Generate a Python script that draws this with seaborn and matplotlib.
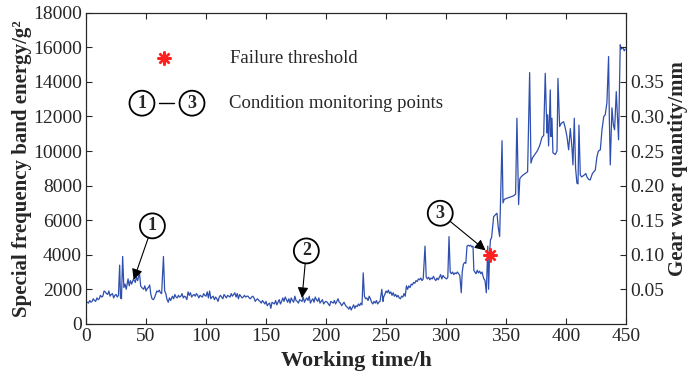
import numpy as np
import pandas as pd
import seaborn as sns
import matplotlib.pyplot as plt

# working time (h) and special frequency band energy (g^2)
hours = [0, 1, 2, 3, 4, 5, 6, 7, 8, 9, 10, 11, 12, 13, 14, 15, 16, 17, 18, 19,
         20, 21, 22, 23, 24, 25, 26, 27, 28, 28.7, 29.5, 30.5, 31.5, 32.5, 33.5, 35, 36, 37, 38, 39.5,
         41, 42, 43, 44.5, 45.5, 46.5, 48, 49, 50, 51, 52, 53, 54, 55, 56, 57, 58, 59, 60, 61,
         62, 63, 64.5, 65.5, 66.5, 67.5, 68.5, 69.5, 70.5, 72, 73, 74, 75, 76, 77, 78, 79, 80, 81, 82,
         83, 84, 85, 86, 87, 88, 89, 90, 91, 92, 93, 94, 95, 96, 97, 98, 99, 100, 101, 102,
         103, 104, 105, 106, 107, 108, 109, 110, 111, 112, 113, 114, 115, 116, 117, 118, 119, 120, 121, 122,
         123, 124, 125, 126, 127, 128, 129, 130, 131, 132, 133, 134, 135, 136, 137, 138, 139, 140, 141, 142,
         143, 144, 145, 146, 147, 148, 149, 150, 151, 152, 153, 154, 155, 156, 157, 158, 159, 160, 161, 162,
         163, 164, 165, 166, 167, 168, 169, 170, 171, 172, 173, 174, 175, 176, 177, 178, 179, 180, 181, 182,
         183, 184, 185, 186, 187, 188, 189, 190, 191, 192, 193, 194, 195, 196, 197, 198, 199, 200, 201, 202,
         203, 204, 205, 206, 207, 208, 209, 210, 211, 212, 213, 214, 215, 216, 217, 218, 219, 220, 221, 222,
         223, 224, 225, 226, 227, 228, 229, 230, 231, 232, 233, 234, 235, 236, 237, 238, 239, 240, 241, 242,
         243, 244, 245, 246.5, 247.5, 248, 249, 250, 251, 252, 253, 254, 255, 256, 257, 258, 259, 260, 261, 262,
         263, 264, 265, 266, 267, 268, 269, 270, 271, 272, 273, 274, 275, 276, 277, 278, 279, 280, 281, 282.5,
         283.5, 284.5, 285.5, 286.5, 287.5, 288.5, 289.5, 290.5, 291.5, 292.5, 293.5, 294.5, 295.5, 296.5, 297.5,
         298.5, 299.5, 300.5, 301.5, 302.5, 303.5, 304.5, 305.5, 306.5, 307.5, 308.5, 309.5, 310.5, 311.5, 312.7,
         313.5, 314.5, 315.5, 316.5, 317.5, 318.5, 319.5, 320.5, 321.5, 322.5, 323.2, 324, 325, 326, 327, 328,
         329, 330, 331.3, 332.5, 333.6, 334.8, 335.5, 336.3, 337, 338, 339.7, 341, 342.5, 343.5, 344.7, 346.7, 347.5,
         348.5, 350, 352, 354, 356, 358, 359.1, 360.5, 361.5, 362.5, 364, 366, 368, 369.7, 370.8, 372, 374, 376,
         378, 380, 381.4, 382.7, 384.1, 384.7, 385.5, 386.9, 387.5, 388.3, 389.1, 391, 392.5, 393.3, 394.7, 396,
         398, 399.5, 400.8, 402.2, 403.6, 405, 405.8, 406.9, 408, 409.1, 410, 410.8, 411.9, 413, 415, 416.5,
         417.5, 419, 420.2, 422, 424.4, 425.8, 427, 428.6, 430, 431.5, 432.7, 434.1, 435.5, 436.1, 436.9, 438.3,
         439.5, 440.5, 441.9, 443.8, 445.2, 446, 447.5, 448.5, 449.4]
energy = [1300, 1250, 1200, 1350, 1250, 1300, 1450, 1350, 1300, 1500, 1400, 1450, 1650, 1550, 1600, 1900, 1850, 1750, 1700, 1900,
          1600, 1700, 1750, 1500, 1650, 1700, 1550, 1650, 3400, 1500, 1450, 3900, 2100, 2300, 2000, 2600, 2200, 2500, 2300, 2600,
          2400, 2700, 2500, 2950, 2200, 2100, 2000, 2200, 1900, 2050, 2100, 2250, 1700, 1450, 1400, 1500, 1700, 1900, 1850, 1950,
          1800, 1750, 3900, 1900, 1750, 1400, 1250, 1500, 1350, 1600, 1450, 1700, 1550, 1500, 1650, 1550, 1600, 1750, 1500, 1600,
          1550, 1400, 1850, 1650, 1800, 1550, 1650, 1700, 1600, 1750, 1650, 1500, 1650, 1600, 1550, 1750, 1650, 1600, 1850, 1500,
          1900, 1450, 1550, 1600, 1400, 1550, 1450, 1300, 1550, 1650, 1550, 1450, 1700, 1600, 1500, 1650, 1600, 1550, 1750, 1600,
          1700, 1800, 1550, 1750, 1450, 1700, 1600, 1500, 1550, 1650, 1550, 1600, 1600, 1500, 1450, 1550, 1600, 1500, 1300, 1400,
          1450, 1350, 1300, 1200, 1350, 1250, 1150, 1300, 1050, 1150, 1200, 900, 1250, 1200, 1150, 1350, 1100, 1250, 1400, 1150,
          1300, 1500, 1300, 1550, 1400, 1250, 1450, 1200, 1500, 1350, 1250, 1600, 1350, 1300, 1200, 1400, 1350, 1300, 1550, 1250,
          1400, 1500, 1350, 1600, 1200, 1350, 1450, 1250, 1550, 1400, 1300, 1500, 1200, 1300, 1400, 1150, 1250, 1300, 1250, 1150,
          1050, 1300, 1250, 1200, 1350, 1150, 1300, 1450, 1250, 1200, 1050, 1150, 1250, 1100, 1000, 950, 850, 1000, 800, 950,
          1100, 900, 1050, 1000, 1150, 1050, 1200, 1100, 2950, 1600, 1450, 1500, 1350, 1600, 1450, 1250, 1150, 1300, 1200, 1350,
          1150, 1250, 1300, 2000, 1300, 1550, 1700, 1900, 1800, 1950, 1750, 1850, 1650, 1800, 1600, 1700, 1550, 1650, 1500, 1450,
          1600, 1550, 1750, 1600, 2200, 2000, 2200, 2100, 2300, 2250, 2400, 2350, 2500, 2450, 2600, 2550, 2650, 2500, 2600, 4500,
          2700, 2600, 2700, 2550, 2650, 2600, 2750, 2600, 2500, 2650, 2550, 2700, 2850, 2600, 2800,
          2700, 2650, 2600, 2700, 5050, 3000, 2900, 3000, 2850, 2950, 2900, 3000, 2900, 2800, 1800,
          3000, 3450, 3550, 3500, 4500, 4550, 4500, 4550, 4450, 4500, 3100, 3000, 2900, 3100, 2950, 3050,
          2900, 3000, 2650, 2500, 1800, 4500, 2000, 4000, 4850, 5000, 6200, 6300, 6400, 5600, 5050, 10600, 7000,
          7200, 7250, 7300, 7350, 7400, 7500, 11900, 6900, 8400, 8500, 8600, 8700, 8800, 14540, 9300, 9600, 9800, 10000,
          10300, 10800, 10900, 14500, 11050, 12100, 10300, 13540, 10840, 11900, 9900, 9800, 10000, 14200, 11420, 11600,
          11700, 11300, 10840, 10070, 11300, 10150, 9200, 11900, 9000, 8140, 8100, 11500, 8620, 8500, 8600, 8700,
          8500, 8350, 8330, 8700, 8900, 9680, 10000, 10070, 11230, 12000, 12100, 12800, 15470, 12000, 9200, 12500,
          11500, 11230, 13440, 10650, 16150, 15900, 16000, 15800, 15900]

threshold_hour = 336.3
threshold_energy = 4000

x_ticks = [0, 50, 100, 150, 200, 250, 300, 350, 400, 450]
y_ticks = [0, 2000, 4000, 6000, 8000, 10000, 12000, 14000, 16000, 18000]
wear_ticks = [0.05, 0.10, 0.15, 0.20, 0.25, 0.30, 0.35, 0.40]
wear_labels = ['0.05', '0.10', '0.15', '0.20', '0.25', '0.30', '0.35', '']

sns.set_style("ticks")
plt.rcParams['font.family'] = ['Liberation Serif', 'DejaVu Serif']

fig, ax = plt.subplots(figsize=(6.94, 3.77), dpi=100)
fig.subplots_adjust(left=0.124, right=0.902, bottom=0.141, top=0.966)

df = pd.DataFrame({'hours': hours, 'energy': energy})
sns.lineplot(data=df, x='hours', y='energy', ax=ax, color='#2f4fae', linewidth=0.9)

ax.set_xlim(0, 450)
ax.set_ylim(0, 18000)
ax.set_xticks(x_ticks)
ax.set_yticks(y_ticks)
ax.tick_params(direction='in', top=True, right=False, labelsize=14, length=4, pad=3)
ax.set_xlabel('Working time/h', fontweight='bold', fontsize=16, labelpad=4)
ax.set_ylabel('Special frequency band energy/g²', fontweight='bold', fontsize=15, labelpad=1)

ax2 = ax.twinx()
ax2.set_ylim(0, 0.45)
ax2.set_yticks(wear_ticks)
ax2.set_yticklabels(wear_labels)
ax2.tick_params(direction='in', labelsize=14, length=4, pad=3)
ax2.set_ylabel('Gear wear quantity/mm', fontweight='bold', fontsize=15, labelpad=3)

star = dict(marker=(8, 2, 0), color='#ff2020', markersize=10, markeredgewidth=1.7, linestyle='none')
ax.plot([threshold_hour], [threshold_energy], **star)

circ = dict(boxstyle='circle,pad=0.22', fc='white', ec='black', lw=1.3)
arrow = dict(arrowstyle='-|>', color='black', lw=0.8, mutation_scale=16, shrinkA=0, shrinkB=0)
ax.annotate('1', xy=(39.7, 2550), xytext=(55.3, 5670), ha='center', va='center',
            fontsize=13, fontweight='bold', bbox=circ, arrowprops=arrow)
ax.annotate('2', xy=(180, 1490), xytext=(183.6, 4220), ha='center', va='center',
            fontsize=13, fontweight='bold', bbox=circ, arrowprops=arrow)
ax.annotate('3', xy=(333, 4250), xytext=(295.2, 6400), ha='center', va='center',
            fontsize=13, fontweight='bold', bbox=circ, arrowprops=arrow)

# legend-like notes
ax.plot([65], [15380], **star)
ax.text(120.3, 15380, 'Failure threshold', fontsize=13.5, va='center', ha='left')
ax.text(46.6, 12770, '1', fontsize=13, fontweight='bold', ha='center', va='center', bbox=circ)
ax.text(88.3, 12770, '3', fontsize=13, fontweight='bold', ha='center', va='center', bbox=circ)
ax.plot([61, 73], [12770, 12770], color='black', lw=1.0)
ax.text(118.8, 12770, 'Condition monitoring points', fontsize=13.5, va='center', ha='left')

fig.savefig('out.png', dpi=100)
